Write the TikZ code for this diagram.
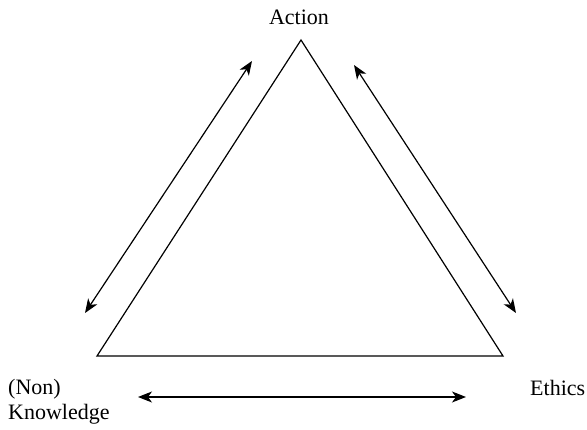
\documentclass[tikz,border=0pt]{standalone}
\usepackage{fontspec}
\setmainfont{Liberation Serif}
\usetikzlibrary{arrows.meta, positioning}

\begin{document}
\begin{tikzpicture}[
  x=1pt, y=-1pt,
  label/.style={
    inner sep=0pt,
    font=\fontsize{22}{25}\selectfont
  },
  link/.style={
    {Stealth[length=14pt,width=11pt,inset=4pt]}-{Stealth[length=14pt,width=11pt,inset=4pt]},
    line width=1.2pt
  }
]
  \useasboundingbox (0,0) rectangle (587,430);

  % corners of the triangle
  \coordinate (top) at (301,40);
  \coordinate (left) at (97,356);
  \coordinate (right) at (503,356);
  \draw[line width=1.2pt, line join=miter] (top) -- (left) -- (right) -- cycle;

  % labels
  \node[label] (action) at (299,17) {Action};
  \node[label, align=left, anchor=west] (know) at (8,402) {(Non)\\Knowledge};
  \node[label, anchor=west] (ethics) at (530,388) {Ethics};

  % arrows
  \coordinate (la) at (252,61);
  \coordinate (lb) at (85,313);
  \coordinate (ra) at (354,65);
  \coordinate (rb) at (516,313);
  \coordinate (ba) at (138,397);
  \coordinate (bb) at (466,397);
  \draw[link] (la) -- (lb);
  \draw[link] (ra) -- (rb);
  \draw[link] (ba) -- (bb);
\end{tikzpicture}
\end{document}
